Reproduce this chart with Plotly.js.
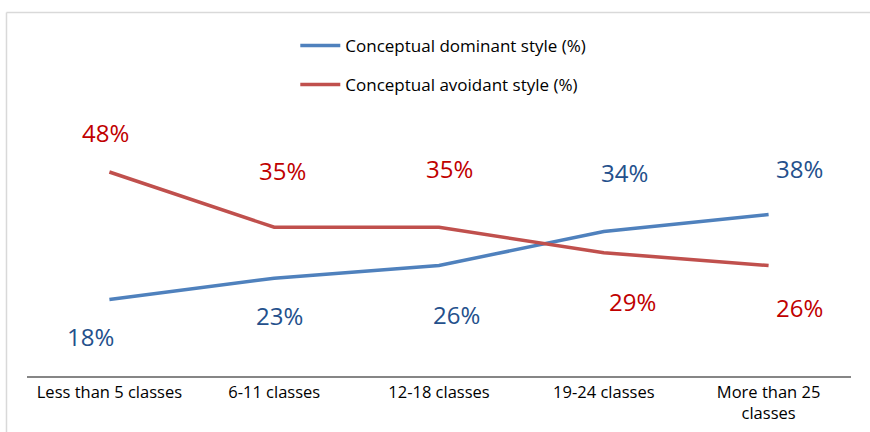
<!DOCTYPE html>
<html>
<head>
<meta charset="utf-8">
<script src="https://cdn.plot.ly/plotly-3.0.1.min.js"></script>
<style>html,body{margin:0;padding:0;background:#fff}#chart{width:870px;height:432px}</style>
</head>
<body>
<div id="chart"></div>
<script>
const categories = ["Less than 5 classes", "6-11 classes", "12-18 classes", "19-24 classes", "More than 25<br>classes"];
const dominant = [18, 23, 26, 34, 38];
const avoidant = [48, 35, 35, 29, 26];
const dominantName = "Conceptual dominant style (%)";
const avoidantName = "Conceptual avoidant style (%)";

// data-label offsets in pixels (styling only, relative to each point)
const dominantLabelDx = [-18.5, 5.5, 17, 21, 31];
const dominantLabelDy = [-36.5, -37, -49, 59.5, 46];
const avoidantLabelDx = [-3.5, 8.5, 10, 29, 31];
const avoidantLabelDy = [39.5, 56.5, 59, -48.5, -42];

const blue = "#4F81BD", red = "#C0504D";
const blueText = "#24508C", redText = "#C00000";
const font = "Open Sans, Liberation Sans, sans-serif";

const traces = [
  {x: categories, y: dominant, name: dominantName, type: "scatter", mode: "lines",
   line: {color: blue, width: 3.5}, legendgroup: "a"},
  {x: categories, y: avoidant, name: avoidantName, type: "scatter", mode: "lines",
   line: {color: red, width: 3.5}, legendgroup: "b"}
];

const annotations = [];
function addLabels(vals, dx, dy, color) {
  vals.forEach((v, i) => annotations.push({
    x: categories[i], y: v, xref: "x", yref: "y", text: v + "%", showarrow: false,
    xshift: dx[i], yshift: dy[i], font: {family: font, size: 24, color: color}
  }));
}
addLabels(dominant, dominantLabelDx, dominantLabelDy, blueText);
addLabels(avoidant, avoidantLabelDx, avoidantLabelDy, redText);

const layout = {
  width: 870, height: 432,
  margin: {l: 27, r: 19, t: 121, b: 56},
  paper_bgcolor: "#fff", plot_bgcolor: "#fff",
  font: {family: font, size: 16.5, color: "#000"},
  showlegend: true,
  legend: {x: 0.3256, xanchor: "left", y: 1.365, yanchor: "top", orientation: "v",
           itemwidth: 40, tracegroupgap: 14, font: {family: font, size: 17, color: "#000"},
           bgcolor: "rgba(0,0,0,0)"},
  xaxis: {type: "category", range: [-0.5, 4.5], showline: true, linecolor: "#868686", linewidth: 2,
          showgrid: false, zeroline: false, ticks: "", tickfont: {family: font, size: 16.5, color: "#000"},
          fixedrange: true},
  yaxis: {range: [0, 60], visible: false, showgrid: false, zeroline: false, fixedrange: true},
  annotations: annotations,
  shapes: [
    {type: "line", xref: "paper", yref: "paper", x0: -0.0249, x1: 1.03, y0: 1.4255, y1: 1.4255,
     line: {color: "#d9d9d9", width: 1.5}},
    {type: "line", xref: "paper", yref: "paper", x0: -0.0249, x1: -0.0249, y0: 1.4255, y1: -0.3,
     line: {color: "#d9d9d9", width: 1.5}}
  ]
};

Plotly.newPlot("chart", traces, layout, {displayModeBar: false, staticPlot: true});
</script>
</body>
</html>
